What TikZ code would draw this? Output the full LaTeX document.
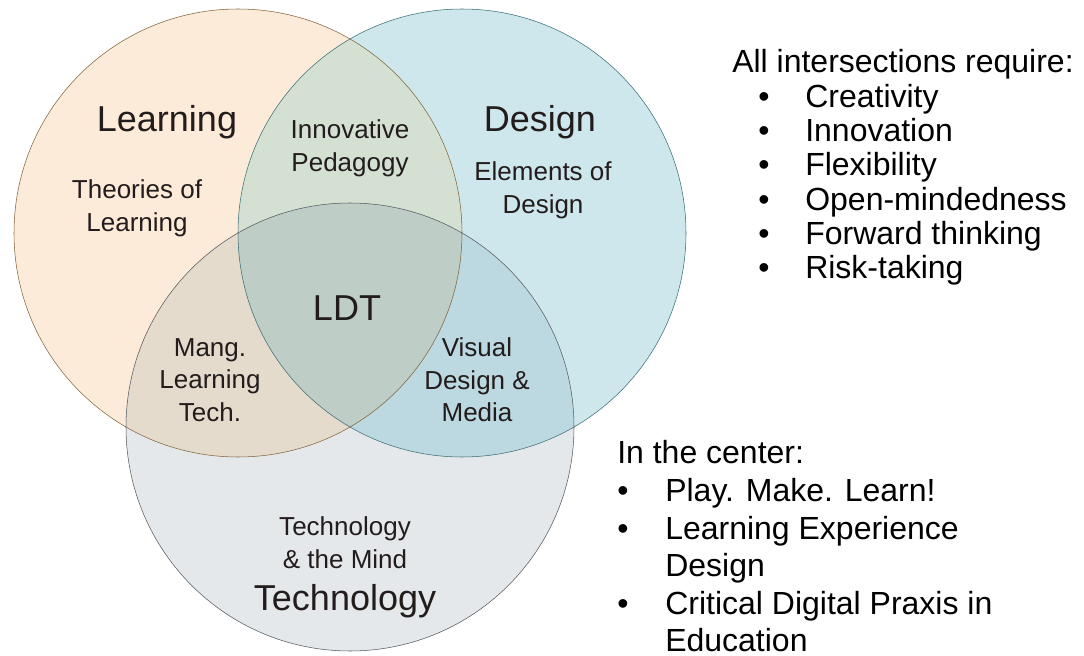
\documentclass[tikz,border=0pt]{standalone}
\usepackage{fontspec}
\setmainfont{Liberation Sans}
\usetikzlibrary{positioning}

\definecolor{learnfill}{RGB}{253,235,218}
\definecolor{designfill}{RGB}{205,231,236}
\definecolor{techfill}{RGB}{228,232,235}
\definecolor{ldfill}{RGB}{212,225,210}
\definecolor{ltfill}{RGB}{228,219,205}
\definecolor{dtfill}{RGB}{188,216,224}
\definecolor{ldtfill}{RGB}{190,205,198}
\definecolor{learnline}{RGB}{130,100,60}
\definecolor{designline}{RGB}{60,110,115}
\definecolor{techline}{RGB}{85,90,95}
\definecolor{inktext}{RGB}{35,28,28}

\begin{document}
\begin{tikzpicture}[x=0.75pt,y=-0.75pt,line join=round,line cap=round,
  bigname/.style={text=inktext,font=\fontsize{27}{30}\selectfont},
  subname/.style={text=inktext,align=center,font=\fontsize{19.5}{24.5}\selectfont},
  listtext/.style={anchor=base west,inner sep=0pt,font=\fontsize{24}{28}\selectfont},
  listdot/.style={anchor=base,inner sep=0pt,font=\fontsize{24}{28}\selectfont}]
\def\r{224}
\useasboundingbox (0,0) rectangle (1084,656);
\path
(238,233) coordinate (L)
(462,233) coordinate (D)
(350,427) coordinate (T)
;
%
\fill[learnfill] (L) circle (\r);
\fill[designfill] (D) circle (\r);
\fill[techfill] (T) circle (\r);
\begin{scope}
\clip (L) circle (\r);
\fill[ldfill] (D) circle (\r);
\fill[ltfill] (T) circle (\r);
\end{scope}
\begin{scope}
\clip (D) circle (\r);
\fill[dtfill] (T) circle (\r);
\end{scope}
\begin{scope}
\clip (L) circle (\r);
\clip (D) circle (\r);
\fill[ldtfill] (T) circle (\r);
\end{scope}
\draw[learnline] (L) circle (\r);
\draw[designline] (D) circle (\r);
\draw[techline] (T) circle (\r);
%
\node[bigname] (lrn) at (167,122) {Learning};
\node[subname] (lrnsub) at (137,208) {Theories of\\Learning};
\node[subname] (ped) at (350,148) {Innovative\\Pedagogy};
\node[bigname] (dsn) at (540,122) {Design};
\node[subname] (dsnsub) at (543,190) {Elements of\\Design};
\node[bigname] (ldt) at (347,308) {LDT};
\node[subname] (mlt) at (210,380) {Mang.\\Learning\\Tech.};
\node[subname] (vdm) at (477,380) {Visual\\Design \&\\Media};
\node[subname] (tchsub) at (345,543) {Technology\\\& the Mind};
\node[bigname] (tch) at (345,601) {Technology};
%
\node[listtext] (req) at (732,73) {All intersections require:};
\foreach \txt [count=\i] in {Creativity,Innovation,Flexibility,Open-mindedness,Forward thinking,Risk-taking}{
\node[listdot] (reqdot\i) at (764,{73+34.3*\i}) {\textbullet};
\node[listtext] (req\i) at (805,{73+34.3*\i}) {\txt};
}
%
\node[listtext] (ctr) at (617,463) {In the center:};
\foreach \txt/\y in {Play. Make. Learn!/501,Learning Experience/539,Critical Digital Praxis in/614}
\node[listdot] at (623,\y) {\textbullet};
\foreach \txt/\y in {Play. Make. Learn!/501,Learning Experience/539,Design/576,Critical Digital Praxis in/614,Education/651}
\node[listtext] at (665,\y) {\txt};
\end{tikzpicture}
\end{document}
